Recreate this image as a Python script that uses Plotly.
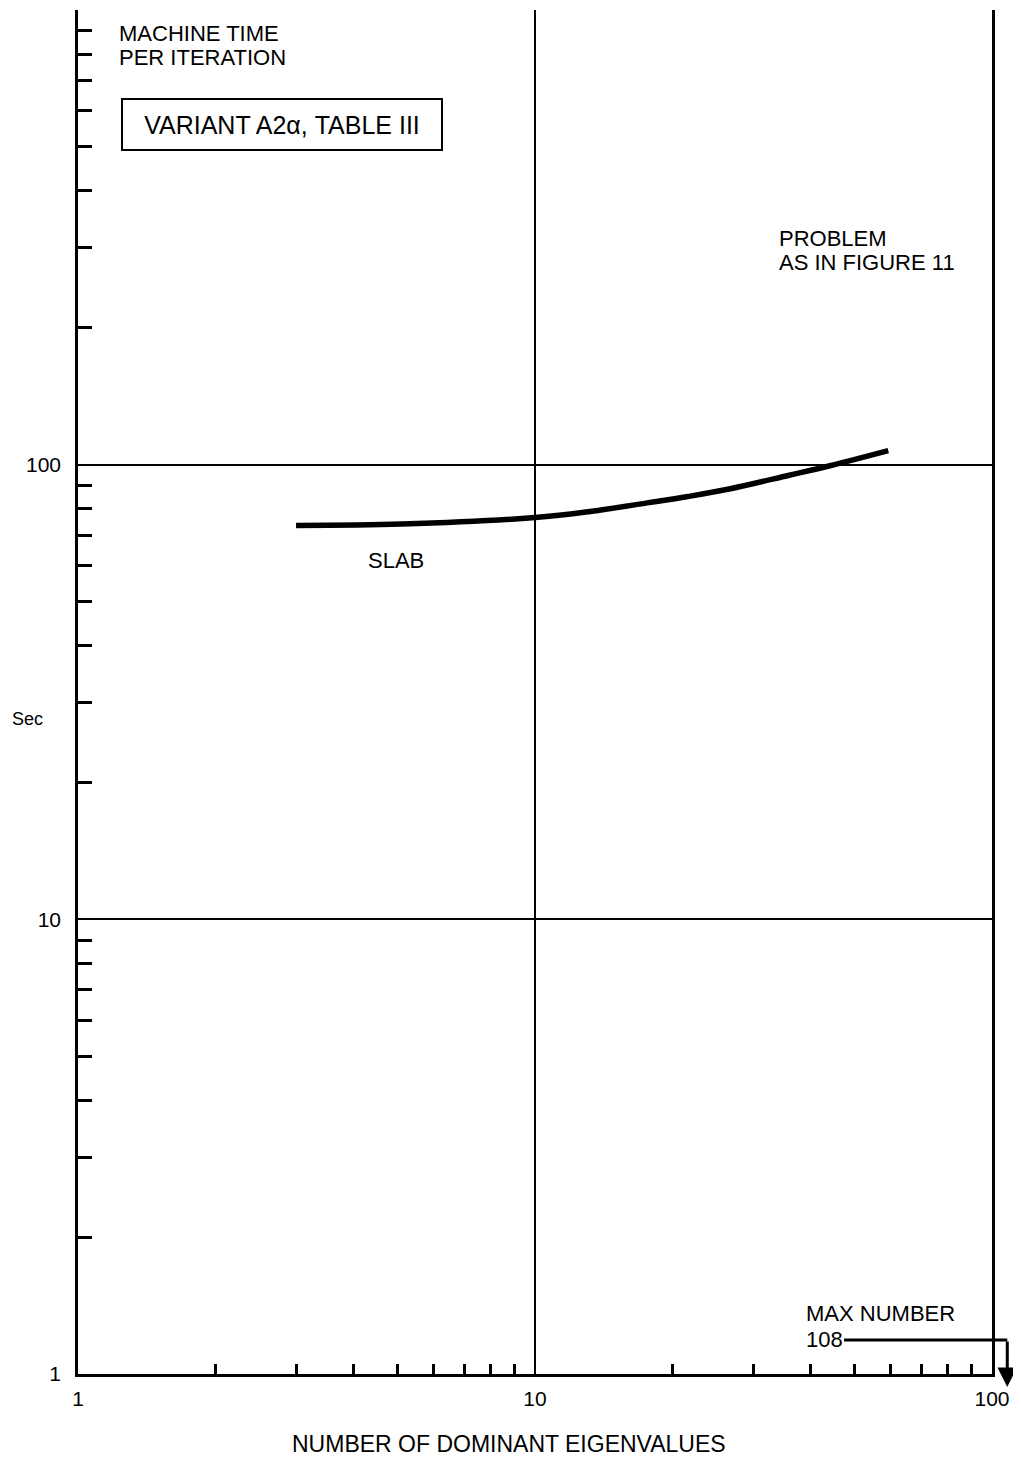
import math
import plotly.graph_objects as go

# ---- data ----
eig_counts = [3, 5.1, 10, 13.2, 17.6, 21.6, 26.6, 36, 44.4, 59.3]
slab_sec = [73.5, 74.0, 76.5, 78.9, 82.4, 85.1, 88.4, 94.8, 99.6, 107.4]

x_major = [1, 10, 100]
x_major_text = ["1", "10", "100"]
y_major = [1, 10, 100]
y_major_text = ["1", "10", "100"]
x_minor = [2, 3, 4, 5, 6, 7, 8, 9, 20, 30, 40, 50, 60, 70, 80, 90]
y_minor = [2, 3, 4, 5, 6, 7, 8, 9, 20, 30, 40, 50, 60, 70, 80, 90,
           200, 300, 400, 500, 600, 700, 800, 900]

max_number = 108
max_marker_sec = 1.188
arrow_tip_sec = 0.936
label_108_x = 42.9

X_RANGE = [1, 100]
Y_RANGE = [1, 1000]

FONT = "Liberation Sans, Arial, Helvetica, sans-serif"

# page has an 8px body margin; the figure is sized to fit inside the window
OFF = 8
W, H = 1013, 1453
ML, MR, MT, MB = 70, 29, 2, 87
PW = W - ML - MR
PH = H - MT - MB


def px_x(px):
    return (px - OFF - ML) / PW


def px_y(py):
    return (H - MB - (py - OFF)) / PH


fig = go.Figure()
fig.add_trace(go.Scatter(
    x=eig_counts, y=slab_sec, mode="lines",
    line=dict(color="black", width=5.5, shape="spline", smoothing=1.0),
    showlegend=False, hoverinfo="skip",
))

axis_common = dict(
    type="log",
    showgrid=True, gridcolor="black", gridwidth=2,
    showline=True, linecolor="black", linewidth=2.5,
    zeroline=False,
    ticks="",
    tickmode="array",
    tickfont=dict(family=FONT, size=21, color="black"),
)

fig.update_xaxes(
    **axis_common,
    range=[math.log10(X_RANGE[0]), math.log10(X_RANGE[1])],
    tickvals=x_major, ticktext=x_major_text,
    mirror=False,
    ticklabelstandoff=4,
    minor=dict(tickmode="array", tickvals=x_minor, ticks="inside",
               ticklen=10, tickwidth=2.5, tickcolor="black", showgrid=False),
)
fig.update_yaxes(
    **axis_common,
    range=[math.log10(Y_RANGE[0]), math.log10(Y_RANGE[1])],
    tickvals=y_major, ticktext=y_major_text,
    mirror=True,
    ticklabelstandoff=10,
    minor=dict(tickmode="array", tickvals=y_minor, ticks="inside",
               ticklen=14, tickwidth=2.5, tickcolor="black", showgrid=False),
)


def text_ann(text, px, py, size=22, xanchor="left", align="left", **kw):
    return dict(text=text, x=px_x(px), y=px_y(py), xref="paper", yref="paper",
                xanchor=xanchor, yanchor="middle", showarrow=False, align=align,
                font=dict(family=FONT, size=size, color="black"), **kw)


annotations = [
    text_ann("MACHINE TIME", 117, 34),
    text_ann("PER ITERATION", 117, 58),
    text_ann("VARIANT A2α, TABLE III", 282, 124, size=25, xanchor="center",
             align="center", bordercolor="black", borderwidth=2, borderpad=2,
             width=314, height=45),
    text_ann("PROBLEM", 777, 239),
    text_ann("AS IN FIGURE 11", 777, 263),
    text_ann("SLAB", 366, 560),
    text_ann("MAX NUMBER", 804, 1313),
    text_ann("NUMBER OF DOMINANT EIGENVALUES", 509, 1444, size=23, xanchor="center"),
    text_ann("Sec", 27, 719, size=18, xanchor="center"),
    # horizontal leader "108 ----"
    dict(text="108", x=math.log10(max_number), y=math.log10(max_marker_sec),
         xref="x", yref="y", ax=math.log10(label_108_x), ay=math.log10(max_marker_sec),
         axref="x", ayref="y", showarrow=True, arrowhead=0, arrowwidth=3,
         arrowcolor="black", font=dict(family=FONT, size=22, color="black")),
    # vertical arrow down past the axis
    dict(text="", xref="paper",
         x=math.log10(max_number / X_RANGE[0]) / math.log10(X_RANGE[1] / X_RANGE[0]),
         y=math.log10(arrow_tip_sec), yref="y",
         axref="pixel", ax=0, ayref="y", ay=math.log10(max_marker_sec),
         showarrow=True, arrowhead=2, arrowsize=1.3, arrowwidth=3,
         arrowcolor="black"),
]

fig.update_layout(
    width=W, height=H, autosize=False,
    margin=dict(l=ML, r=MR, t=MT, b=MB, pad=0),
    paper_bgcolor="white", plot_bgcolor="white",
    font=dict(family=FONT, color="black"),
    annotations=annotations,
    showlegend=False,
)

fig.write_html("out.html")
